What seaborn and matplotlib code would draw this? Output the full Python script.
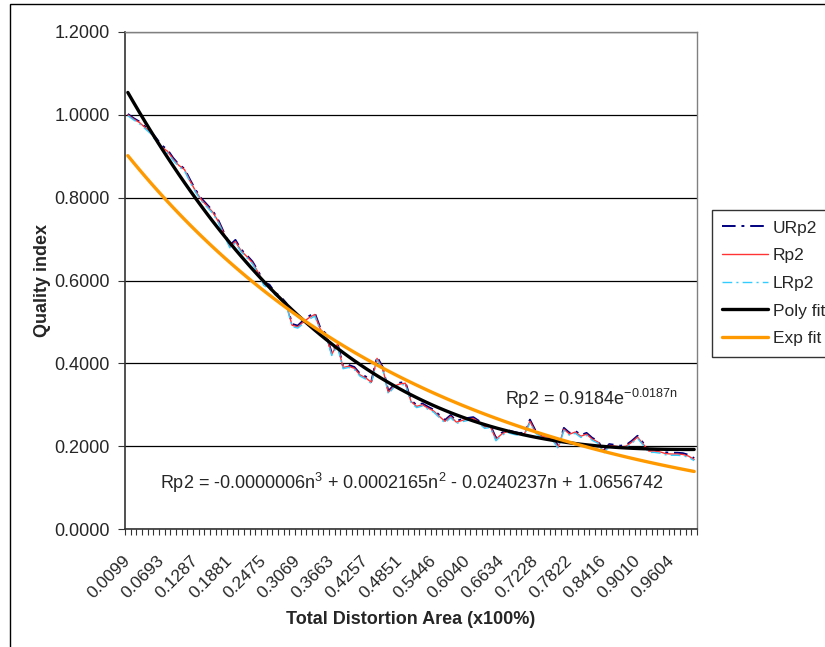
import numpy as np
import pandas as pd
import matplotlib
matplotlib.use("Agg")
import matplotlib.pyplot as plt
import matplotlib.transforms as mtransforms
from matplotlib.patches import Rectangle
import seaborn as sns

# values, one per category (n = 1..101)
rp2 = [1.000, 0.990, 0.982, 0.970, 0.958, 0.940, 0.922, 0.912, 0.893, 0.878,
       0.868, 0.840, 0.815, 0.795, 0.780, 0.765, 0.742, 0.712, 0.682, 0.694,
       0.672, 0.658, 0.643, 0.620, 0.592, 0.585, 0.568, 0.558, 0.542, 0.492,
       0.488, 0.500, 0.510, 0.518, 0.482, 0.468, 0.422, 0.446, 0.390, 0.393,
       0.388, 0.372, 0.365, 0.354, 0.412, 0.388, 0.330, 0.345, 0.350, 0.352,
       0.308, 0.296, 0.300, 0.292, 0.285, 0.272, 0.260, 0.272, 0.258, 0.262,
       0.265, 0.267, 0.258, 0.246, 0.248, 0.217, 0.229, 0.236, 0.232, 0.229,
       0.229, 0.260, 0.234, 0.224, 0.222, 0.217, 0.198, 0.241, 0.229, 0.234,
       0.224, 0.229, 0.217, 0.210, 0.186, 0.202, 0.200, 0.198, 0.200, 0.210,
       0.222, 0.205, 0.188, 0.188, 0.186, 0.182, 0.181, 0.181, 0.180, 0.176,
       0.168]
urp2 = [1.002, 0.992, 0.984, 0.972, 0.960, 0.944, 0.926, 0.916, 0.896, 0.880,
        0.870, 0.843, 0.818, 0.798, 0.783, 0.768, 0.745, 0.715, 0.685, 0.698,
        0.675, 0.661, 0.646, 0.623, 0.596, 0.590, 0.571, 0.561, 0.545, 0.495,
        0.491, 0.504, 0.514, 0.522, 0.485, 0.471, 0.425, 0.450, 0.393, 0.396,
        0.391, 0.375, 0.368, 0.357, 0.416, 0.391, 0.333, 0.348, 0.353, 0.355,
        0.311, 0.299, 0.303, 0.295, 0.288, 0.275, 0.263, 0.275, 0.261, 0.265,
        0.268, 0.270, 0.261, 0.249, 0.251, 0.220, 0.232, 0.239, 0.235, 0.232,
        0.232, 0.264, 0.237, 0.227, 0.225, 0.220, 0.201, 0.244, 0.232, 0.237,
        0.227, 0.232, 0.220, 0.213, 0.189, 0.205, 0.203, 0.201, 0.203, 0.213,
        0.225, 0.208, 0.191, 0.191, 0.189, 0.185, 0.184, 0.184, 0.183, 0.179,
        0.171]
lrp2 = [0.998, 0.988, 0.979, 0.967, 0.955, 0.936, 0.918, 0.908, 0.890, 0.875,
        0.865, 0.837, 0.812, 0.792, 0.777, 0.762, 0.739, 0.709, 0.679, 0.690,
        0.669, 0.655, 0.640, 0.617, 0.588, 0.580, 0.565, 0.555, 0.539, 0.489,
        0.485, 0.496, 0.506, 0.514, 0.479, 0.465, 0.419, 0.442, 0.387, 0.390,
        0.385, 0.369, 0.362, 0.351, 0.408, 0.385, 0.326, 0.342, 0.347, 0.349,
        0.305, 0.293, 0.297, 0.289, 0.282, 0.269, 0.256, 0.269, 0.255, 0.259,
        0.262, 0.264, 0.255, 0.243, 0.245, 0.213, 0.226, 0.233, 0.229, 0.226,
        0.226, 0.256, 0.231, 0.221, 0.219, 0.214, 0.195, 0.238, 0.226, 0.231,
        0.221, 0.226, 0.214, 0.207, 0.183, 0.199, 0.197, 0.195, 0.197, 0.207,
        0.219, 0.202, 0.185, 0.185, 0.183, 0.179, 0.178, 0.178, 0.177, 0.173,
        0.165]
tick_labels = ["0.0099", "0.0693", "0.1287", "0.1881", "0.2475", "0.3069",
               "0.3663", "0.4257", "0.4851", "0.5446", "0.6040", "0.6634",
               "0.7228", "0.7822", "0.8416", "0.9010", "0.9604"]
label_step = 6

# exponential trendline as printed on the chart
exp_a = 0.9184
exp_b = -0.0187

poly_text = "Rp2 = -0.0000006n$^3$ + 0.0002165n$^2$ - 0.0240237n + 1.0656742"
exp_text = "Rp2 = 0.9184e$^{-0.0187n}$"

sns.set_theme(style="white")
plt.rcParams["font.family"] = ["Liberation Sans", "DejaVu Sans"]
plt.rcParams["mathtext.default"] = "regular"

n = np.arange(1, len(rp2) + 1)
idx = n - 1
df = pd.DataFrame({"idx": idx, "URp2": urp2, "Rp2": rp2, "LRp2": lrp2})

# printed cubic coefficient is rounded too hard, so refit the cubic from Rp2
poly = np.polyfit(n, rp2, 3)
df["Poly fit"] = np.polyval(poly, n)
df["Exp fit"] = exp_a * np.exp(exp_b * n)

fig = plt.figure(figsize=(8.25, 6.47), dpi=100)
ax = fig.add_axes([125 / 825, 1 - 529 / 647, 572 / 825, 497 / 647])

styles = {
    "URp2": dict(color="#000080", lw=1.4, linestyle=(0, (7, 3, 1.5, 3))),
    "Rp2": dict(color="#FF3333", lw=1.0, linestyle="-"),
    "LRp2": dict(color="#33CCFF", lw=1.0, linestyle=(0, (7, 3, 1.5, 3))),
    "Poly fit": dict(color="black", lw=2.4, linestyle="-"),
    "Exp fit": dict(color="#FF9900", lw=2.4, linestyle="-"),
}
for name, st in styles.items():
    sns.lineplot(data=df, x="idx", y=name, ax=ax, label=name, **st)

ax.set_xlim(-0.5, len(rp2) - 0.5)
ax.set_ylim(0, 1.2)
ax.set_yticks(np.arange(0, 1.21, 0.2))
ax.set_yticklabels([f"{v:.4f}" for v in np.arange(0, 1.21, 0.2)], fontsize=13)
ax.yaxis.grid(True, color="black", lw=0.9)
ax.set_axisbelow(True)

ax.set_xticks(idx[::label_step])
ax.set_xticklabels(tick_labels, fontsize=12.5, rotation=45, ha="right", va="top",
                   rotation_mode="anchor")
ax.set_xticks(np.arange(-0.5, len(rp2), 1), minor=True)
ax.tick_params(axis="x", which="major", length=0, pad=17)
ax.tick_params(axis="x", which="minor", length=4, width=0.8, color="#333333",
               direction="out", bottom=True)
ax.tick_params(axis="y", length=5, width=0.8, color="#333333", direction="out",
               left=True, pad=6)
offset = mtransforms.ScaledTranslation(-3.6 / 72, 0, fig.dpi_scale_trans)
for lab in ax.get_xticklabels():
    lab.set_transform(lab.get_transform() + offset)

for side in ["top", "right"]:
    ax.spines[side].set_color("#808080")
    ax.spines[side].set_linewidth(1.0)
for side in ["left", "bottom"]:
    ax.spines[side].set_color("#333333")
    ax.spines[side].set_linewidth(1.2)

ax.set_xlabel("Total Distortion Area (x100%)", fontsize=13, fontweight="bold")
ax.set_ylabel("Quality index", fontsize=13, fontweight="bold")
ax.xaxis.set_label_coords(0.5, -0.165)
ax.yaxis.set_label_coords(-0.13, 0.5)

ax.text(0.664, 0.262, exp_text, transform=ax.transAxes, fontsize=13, va="center")
ax.text(0.061, 0.092, poly_text, transform=ax.transAxes, fontsize=13, va="center")

handles, labels = ax.get_legend_handles_labels()
ax.get_legend().remove()
leg = fig.legend(handles, labels, loc="upper left", bbox_to_anchor=(712 / 825, 1 - 210 / 647),
                 borderaxespad=0, fontsize=12.5, frameon=True, fancybox=False,
                 handlelength=2.6, labelspacing=0.72, borderpad=0.6, handletextpad=0.3)
leg.get_frame().set_edgecolor("black")
leg.get_frame().set_linewidth(1.0)

fig.patches.append(Rectangle((10 / 825, -0.1), 1.2, 1.1 - 4 / 647, transform=fig.transFigure,
                             fill=False, edgecolor="black", lw=1.0))

fig.savefig("out.png", dpi=100)
